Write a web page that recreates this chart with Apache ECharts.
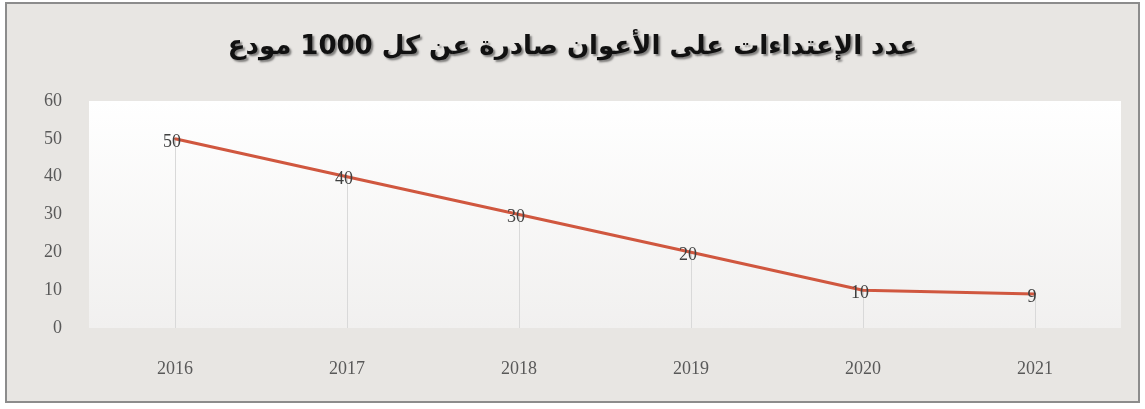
<!DOCTYPE html>
<html><head><meta charset="utf-8">
<style>html,body{margin:0;padding:0;background:#fff}#c{width:1145px;height:409px}</style>
<script src="https://cdn.jsdelivr.net/npm/echarts@6/dist/echarts.min.js"></script>
</head><body><div id="c"></div>
<script>
const titleText = 'عدد الإعتداءات على الأعوان صادرة عن كل 1000 مودع';
const categories = ['2016','2017','2018','2019','2020','2021'];
const values = [50, 40, 30, 20, 10, 9];
const yTicks = {min: 0, max: 60, interval: 10};

const chart = echarts.init(document.getElementById('c'));
const dropLines = categories.map((c, i) => [{xAxis: c, yAxis: 0}, {xAxis: c, yAxis: values[i]}]);
chart.setOption({
  animation: false,
  graphic: [{
    type: 'rect', z: -10, silent: true,
    shape: {x: 6, y: 3, width: 1133, height: 399},
    style: {fill: '#e8e6e3', stroke: '#8c8c8c', lineWidth: 2}
  }],
  title: {
    text: titleText, left: 'center', top: 29,
    textStyle: {fontFamily: 'DejaVu Sans', fontWeight: 'bold', fontSize: 26, color: '#111',
      textShadowColor: 'rgba(0,0,0,0.45)', textShadowBlur: 2, textShadowOffsetX: 2, textShadowOffsetY: 2}
  },
  grid: {
    left: 89, right: 24, top: 101, bottom: 81, show: true, borderWidth: 0,
    backgroundColor: new echarts.graphic.LinearGradient(0, 0, 0, 1, [
      {offset: 0, color: '#ffffff'}, {offset: 1, color: '#f1f0ef'}])
  },
  xAxis: {
    type: 'category', data: categories, boundaryGap: true,
    axisLine: {show: false}, axisTick: {show: false}, splitLine: {show: false},
    axisLabel: {margin: 32, fontFamily: 'Liberation Serif', fontSize: 18, color: '#595959'}
  },
  yAxis: {
    type: 'value', min: yTicks.min, max: yTicks.max, interval: yTicks.interval,
    axisLine: {show: false}, axisTick: {show: false}, splitLine: {show: false},
    axisLabel: {margin: 27, fontFamily: 'Liberation Serif', fontSize: 18, color: '#595959'}
  },
  series: [{
    type: 'line', data: values,
    symbol: 'circle', symbolSize: 2,
    itemStyle: {color: '#d0573f'},
    lineStyle: {color: '#d0573f', width: 3},
    label: {show: true, position: 'inside', offset: [-3, 3], fontFamily: 'Liberation Serif', fontSize: 18, color: '#404040'},
    markLine: {
      silent: true, symbol: 'none', label: {show: false},
      lineStyle: {color: '#d9d9d9', width: 1, type: 'solid'},
      data: dropLines, z: 1
    }
  }]
});
</script></body></html>
